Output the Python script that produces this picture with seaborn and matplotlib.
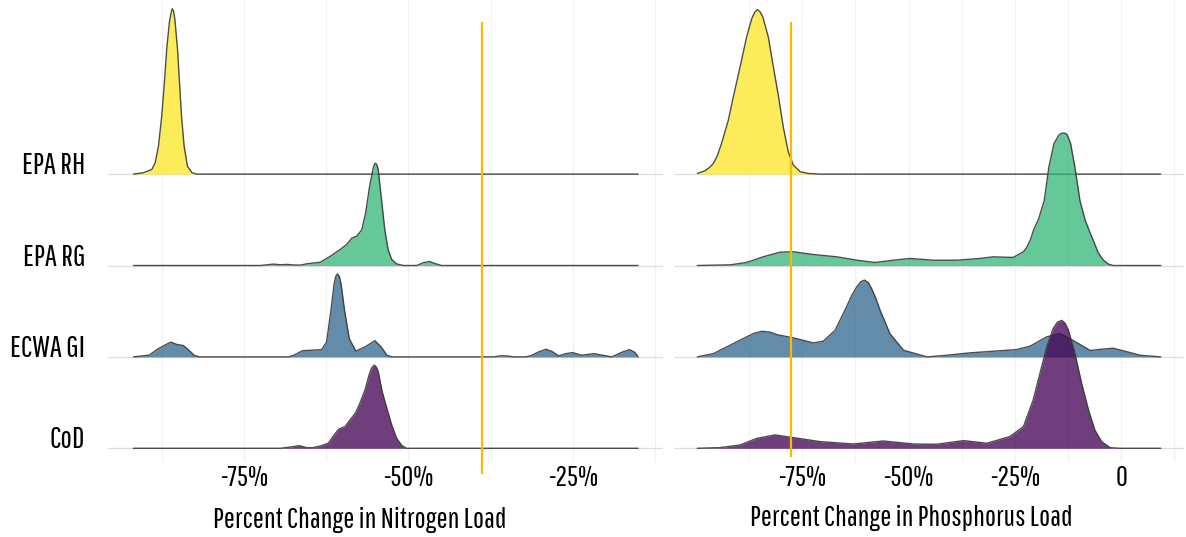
import matplotlib
matplotlib.use("Agg")
import matplotlib.pyplot as plt
import seaborn as sns

# ---------------------------------------------------------------------------
# Ridge data: percent change in load (x) and scaled density height (d)
# Rows from bottom to top: CoD, ECWA GI, EPA RG, EPA RH
# ---------------------------------------------------------------------------
ROWS = ["CoD", "ECWA GI", "EPA RG", "EPA RH"]
ROW_COLORS = ["#440154", "#31688E", "#35B779", "#FDE725"]

# Nitrogen
N_RH_X = [-91.8, -90.3, -89.0, -88.5, -88.0, -87.5, -87.1, -86.75, -86.35, -86.1,
          -85.9, -85.7, -85.5, -85.1, -84.8, -84.5, -84.1, -83.6, -82.9, -82.2, -15.1]
N_RH_D = [0, 0.015, 0.051, 0.124, 0.306, 0.635, 1.0, 1.364, 1.656, 1.76,
          1.81, 1.78, 1.69, 1.364, 1.0, 0.635, 0.306, 0.088, 0.015, 0, 0]

N_RG_X = [-91.8, -72.5, -71.5, -70.5, -69.5, -68.5, -67.5, -66.5, -65.5, -63.4,
          -61.9, -60.4, -59.4, -58.6, -57.9, -57.1, -56.5, -55.9, -55.35, -55.15,
          -55.0, -54.8, -54.6, -54.1, -53.6, -53.1, -52.55, -51.8, -50.8, -48.75,
          -47.75, -46.8, -46.0, -45.0, -15.1]
N_RG_D = [0, 0, 0.008, 0.015, 0.008, 0.012, 0.006, 0.004, 0.018, 0.036,
          0.10, 0.175, 0.23, 0.30, 0.32, 0.39, 0.58, 0.87, 1.07, 1.11,
          1.12, 1.10, 1.05, 0.72, 0.39, 0.175, 0.066, 0.018, 0, 0,
          0.03, 0.044, 0.022, 0, 0]

N_GI_X = [-91.8, -89.4, -88.1, -87.0, -86.1, -85.2, -84.2, -83.4, -82.6, -81.8,
          -68.2, -67.4, -66.1, -63.2, -62.45, -61.8, -61.3, -61.05, -60.8, -60.5,
          -60.25, -59.7, -59.0, -58.0, -56.7, -55.1, -54.1, -53.3, -52.5, -37.0,
          -36.0, -35.0, -34.0, -32.2, -31.3, -30.2, -29.1, -28.2, -27.2, -26.1,
          -25.05, -23.7, -21.8, -20.5, -19.1, -17.6, -16.4, -15.6, -15.1]
N_GI_D = [0, 0.019, 0.087, 0.13, 0.162, 0.136, 0.124, 0.075, 0.019, 0,
          0, 0.019, 0.068, 0.079, 0.162, 0.50, 0.80, 0.88, 0.908, 0.88,
          0.80, 0.50, 0.20, 0.064, 0.105, 0.177, 0.105, 0.019, 0, 0,
          0.012, 0.01, 0, 0, 0.015, 0.055, 0.084, 0.06, 0.011, 0.035,
          0.047, 0.018, 0.036, 0.018, 0.0, 0.05, 0.08, 0.05, 0.0]

N_COD_X = [-91.8, -69.5, -67.75, -66.6, -65.5, -64.5, -63.2, -62.2, -61.3, -60.6,
           -59.65, -58.9, -58.1, -57.4, -56.6, -56.0, -55.6, -55.2, -54.9, -54.6,
           -54.0, -53.3, -52.55, -51.8, -51.0, -50.3, -15.1]
N_COD_D = [0, 0, 0.015, 0.029, 0.007, 0.007, 0.029, 0.055, 0.146, 0.21,
           0.237, 0.31, 0.38, 0.49, 0.64, 0.80, 0.88, 0.91, 0.89, 0.84,
           0.62, 0.44, 0.255, 0.11, 0.029, 0, 0]

# Phosphorus
P_RH_X = [-99.7, -97.9, -96.9, -95.9, -95.0, -94.0, -92.4, -91.2, -89.65, -88.1,
          -86.9, -86.2, -85.6, -85.0, -84.3, -83.0, -81.8, -80.6, -79.5, -78.3,
          -77.1, -75.5, -73.6, -70.8, 9.3]
P_RH_D = [0.007, 0.036, 0.07, 0.117, 0.2, 0.335, 0.59, 0.85, 1.17, 1.50,
          1.70, 1.77, 1.80, 1.78, 1.72, 1.50, 1.17, 0.85, 0.52, 0.244,
          0.098, 0.026, 0.007, 0, 0]

P_RG_X = [-99.7, -92.0, -88.1, -84.2, -80.2, -77.1, -72.4, -66.9, -62.2, -57.9,
          -53.6, -49.7, -44.2, -38.7, -33.2, -30.1, -25.4, -23.0, -22.2, -21.4,
          -20.5, -19.5, -18.1, -17.0, -15.8, -14.6, -14.1, -13.6, -13.1, -12.7,
          -11.9, -10.9, -9.7, -8.5, -7.5, -6.6, -5.4, -4.2, -3.0, -1.9, 9.3]
P_RG_D = [0, 0.007, 0.033, 0.095, 0.146, 0.15, 0.12, 0.095, 0.058, 0.033,
          0.058, 0.077, 0.058, 0.058, 0.077, 0.095, 0.088, 0.15, 0.20, 0.277,
          0.40, 0.50, 0.71, 1.08, 1.335, 1.43, 1.445, 1.45, 1.445, 1.43,
          1.335, 1.08, 0.71, 0.50, 0.38, 0.277, 0.14, 0.058, 0.015, 0, 0]

P_GI_X = [-99.7, -95.9, -92.0, -88.1, -86.3, -84.5, -82.7, -81.0, -77.1, -72.4,
          -70.1, -67.3, -64.6, -63.4, -62.2, -61.3, -60.4, -59.5, -58.7, -57.7,
          -56.7, -54.4, -51.2, -45.7, -41.0, -35.6, -30.1, -24.6, -21.4, -17.5,
          -14.4, -11.3, -7.3, -4.6, -1.9, 0.9, 4.4, 9.3]
P_GI_D = [0, 0.036, 0.128, 0.219, 0.26, 0.28, 0.272, 0.244, 0.208, 0.153,
          0.171, 0.29, 0.547, 0.67, 0.766, 0.82, 0.84, 0.815, 0.747, 0.64,
          0.51, 0.255, 0.073, 0, 0.018, 0.044, 0.062, 0.08, 0.118, 0.22,
          0.255, 0.18, 0.07, 0.084, 0.095, 0.062, 0.018, 0]

P_COD_X = [-99.7, -94.4, -89.65, -85.7, -81.4, -77.1, -70.8, -63.0, -55.95, -48.9,
           -43.4, -37.1, -31.6, -26.2, -23.0, -20.7, -19.1, -17.5, -16.0, -15.0,
           -14.0, -13.2, -12.4, -10.9, -9.3, -7.7, -6.2, -4.6, -2.6, -0.3, 9.3]
P_COD_D = [0, 0.007, 0.036, 0.109, 0.146, 0.117, 0.073, 0.047, 0.08, 0.047,
           0.044, 0.084, 0.055, 0.128, 0.237, 0.528, 0.82, 1.11, 1.31, 1.38,
           1.40, 1.37, 1.29, 1.04, 0.71, 0.42, 0.20, 0.073, 0.007, 0, 0]

# Reduction targets (vertical reference lines)
N_TARGET = -38.8
P_TARGET = -77.7

N_TICKS = [-75, -50, -25]
N_TICK_LABELS = ["-75%", "-50%", "-25%"]
N_MINOR = [-87.5, -62.5, -37.5, -12.5]
P_TICKS = [-75, -50, -25, 0]
P_TICK_LABELS = ["-75%", "-50%", "-25%", "0"]
P_MINOR = [-87.5, -62.5, -37.5, -12.5, 12.5]

N_TITLE = "Percent Change in Nitrogen Load"
P_TITLE = "Percent Change in Phosphorus Load"

N_RIDGES = [(N_COD_X, N_COD_D), (N_GI_X, N_GI_D), (N_RG_X, N_RG_D), (N_RH_X, N_RH_D)]
P_RIDGES = [(P_COD_X, P_COD_D), (P_GI_X, P_GI_D), (P_RG_X, P_RG_D), (P_RH_X, P_RH_D)]

# ---------------------------------------------------------------------------
sns.set_theme(style="white")
plt.rcParams["font.family"] = ["Pathway Gothic One", "DejaVu Sans"]

W, H = 1186, 537
fig = plt.figure(figsize=(W / 100, H / 100), dpi=100)
fig.patch.set_facecolor("white")

panel_bottom_px = 462
axL = fig.add_axes([107.8 / W, (H - panel_bottom_px) / H, 555.3 / W, panel_bottom_px / H])
axR = fig.add_axes([673.7 / W, (H - panel_bottom_px) / H, 510.2 / W, panel_bottom_px / H])

YLIM = (-0.15, 4.905)


def draw_ridges(ax, ridges, target, target_span, xlim, ticks, tick_labels, minor):
    ax.set_facecolor("white")
    ax.set_xlim(*xlim)
    ax.set_ylim(*YLIM)
    # faint grid
    ax.set_xticks(ticks)
    ax.set_xticks(minor, minor=True)
    ax.set_yticks(range(len(ROWS)))
    ax.grid(True, which="both", axis="x", color="#F1F1F1", lw=0.9, zorder=0)
    ax.grid(True, which="major", axis="y", color="#DEDEDE", lw=0.9, zorder=0)
    # ridges: upper rows first so lower rows overlay them
    for row in range(len(ROWS) - 1, -1, -1):
        xs, ds = ridges[row]
        top = [row + d for d in ds]
        z = 2 + (len(ROWS) - row) * 2
        ax.fill_between(xs, row, top, color=ROW_COLORS[row], alpha=0.76,
                        lw=0, zorder=z)
        sns.lineplot(x=xs, y=top, ax=ax, color="#3a3a3a", lw=1.0, alpha=0.9,
                     sort=False, estimator=None, zorder=z + 0.5)
    ax.plot([target, target], target_span, color="#FBBA00", lw=1.6,
            zorder=20, clip_on=False, solid_capstyle="butt")
    for s in ax.spines.values():
        s.set_visible(False)
    ax.tick_params(axis="both", which="both", length=0)
    ax.set_xticklabels(tick_labels, fontsize=21, color="black")
    ax.tick_params(axis="x", pad=2.5)


draw_ridges(axL, N_RIDGES, N_TARGET, (-0.281, 4.663), (-95.7, -11.3),
            N_TICKS, N_TICK_LABELS, N_MINOR)
draw_ridges(axR, P_RIDGES, P_TARGET, (-0.095, 4.663), (-105.25, 14.75),
            P_TICKS, P_TICK_LABELS, P_MINOR)

axL.set_yticklabels(ROWS, fontsize=22, color="black")
for lab in axL.get_yticklabels():
    lab.set_va("baseline")
axL.tick_params(axis="y", pad=16.4)
axR.set_yticklabels([])

axL.set_xlabel(N_TITLE, fontsize=21.2, color="black")
axL.xaxis.label.set_va("center")
axL.xaxis.set_label_coords((360 - 107.8) / 555.3, (panel_bottom_px - 520) / panel_bottom_px)
axR.set_xlabel(P_TITLE, fontsize=21.2, color="black")
axR.xaxis.label.set_va("center")
axR.xaxis.set_label_coords((911 - 673.7) / 510.2, (panel_bottom_px - 518) / panel_bottom_px)
axL.set_ylabel("")
axR.set_ylabel("")

fig.savefig("out.png", dpi=100, facecolor="white")
